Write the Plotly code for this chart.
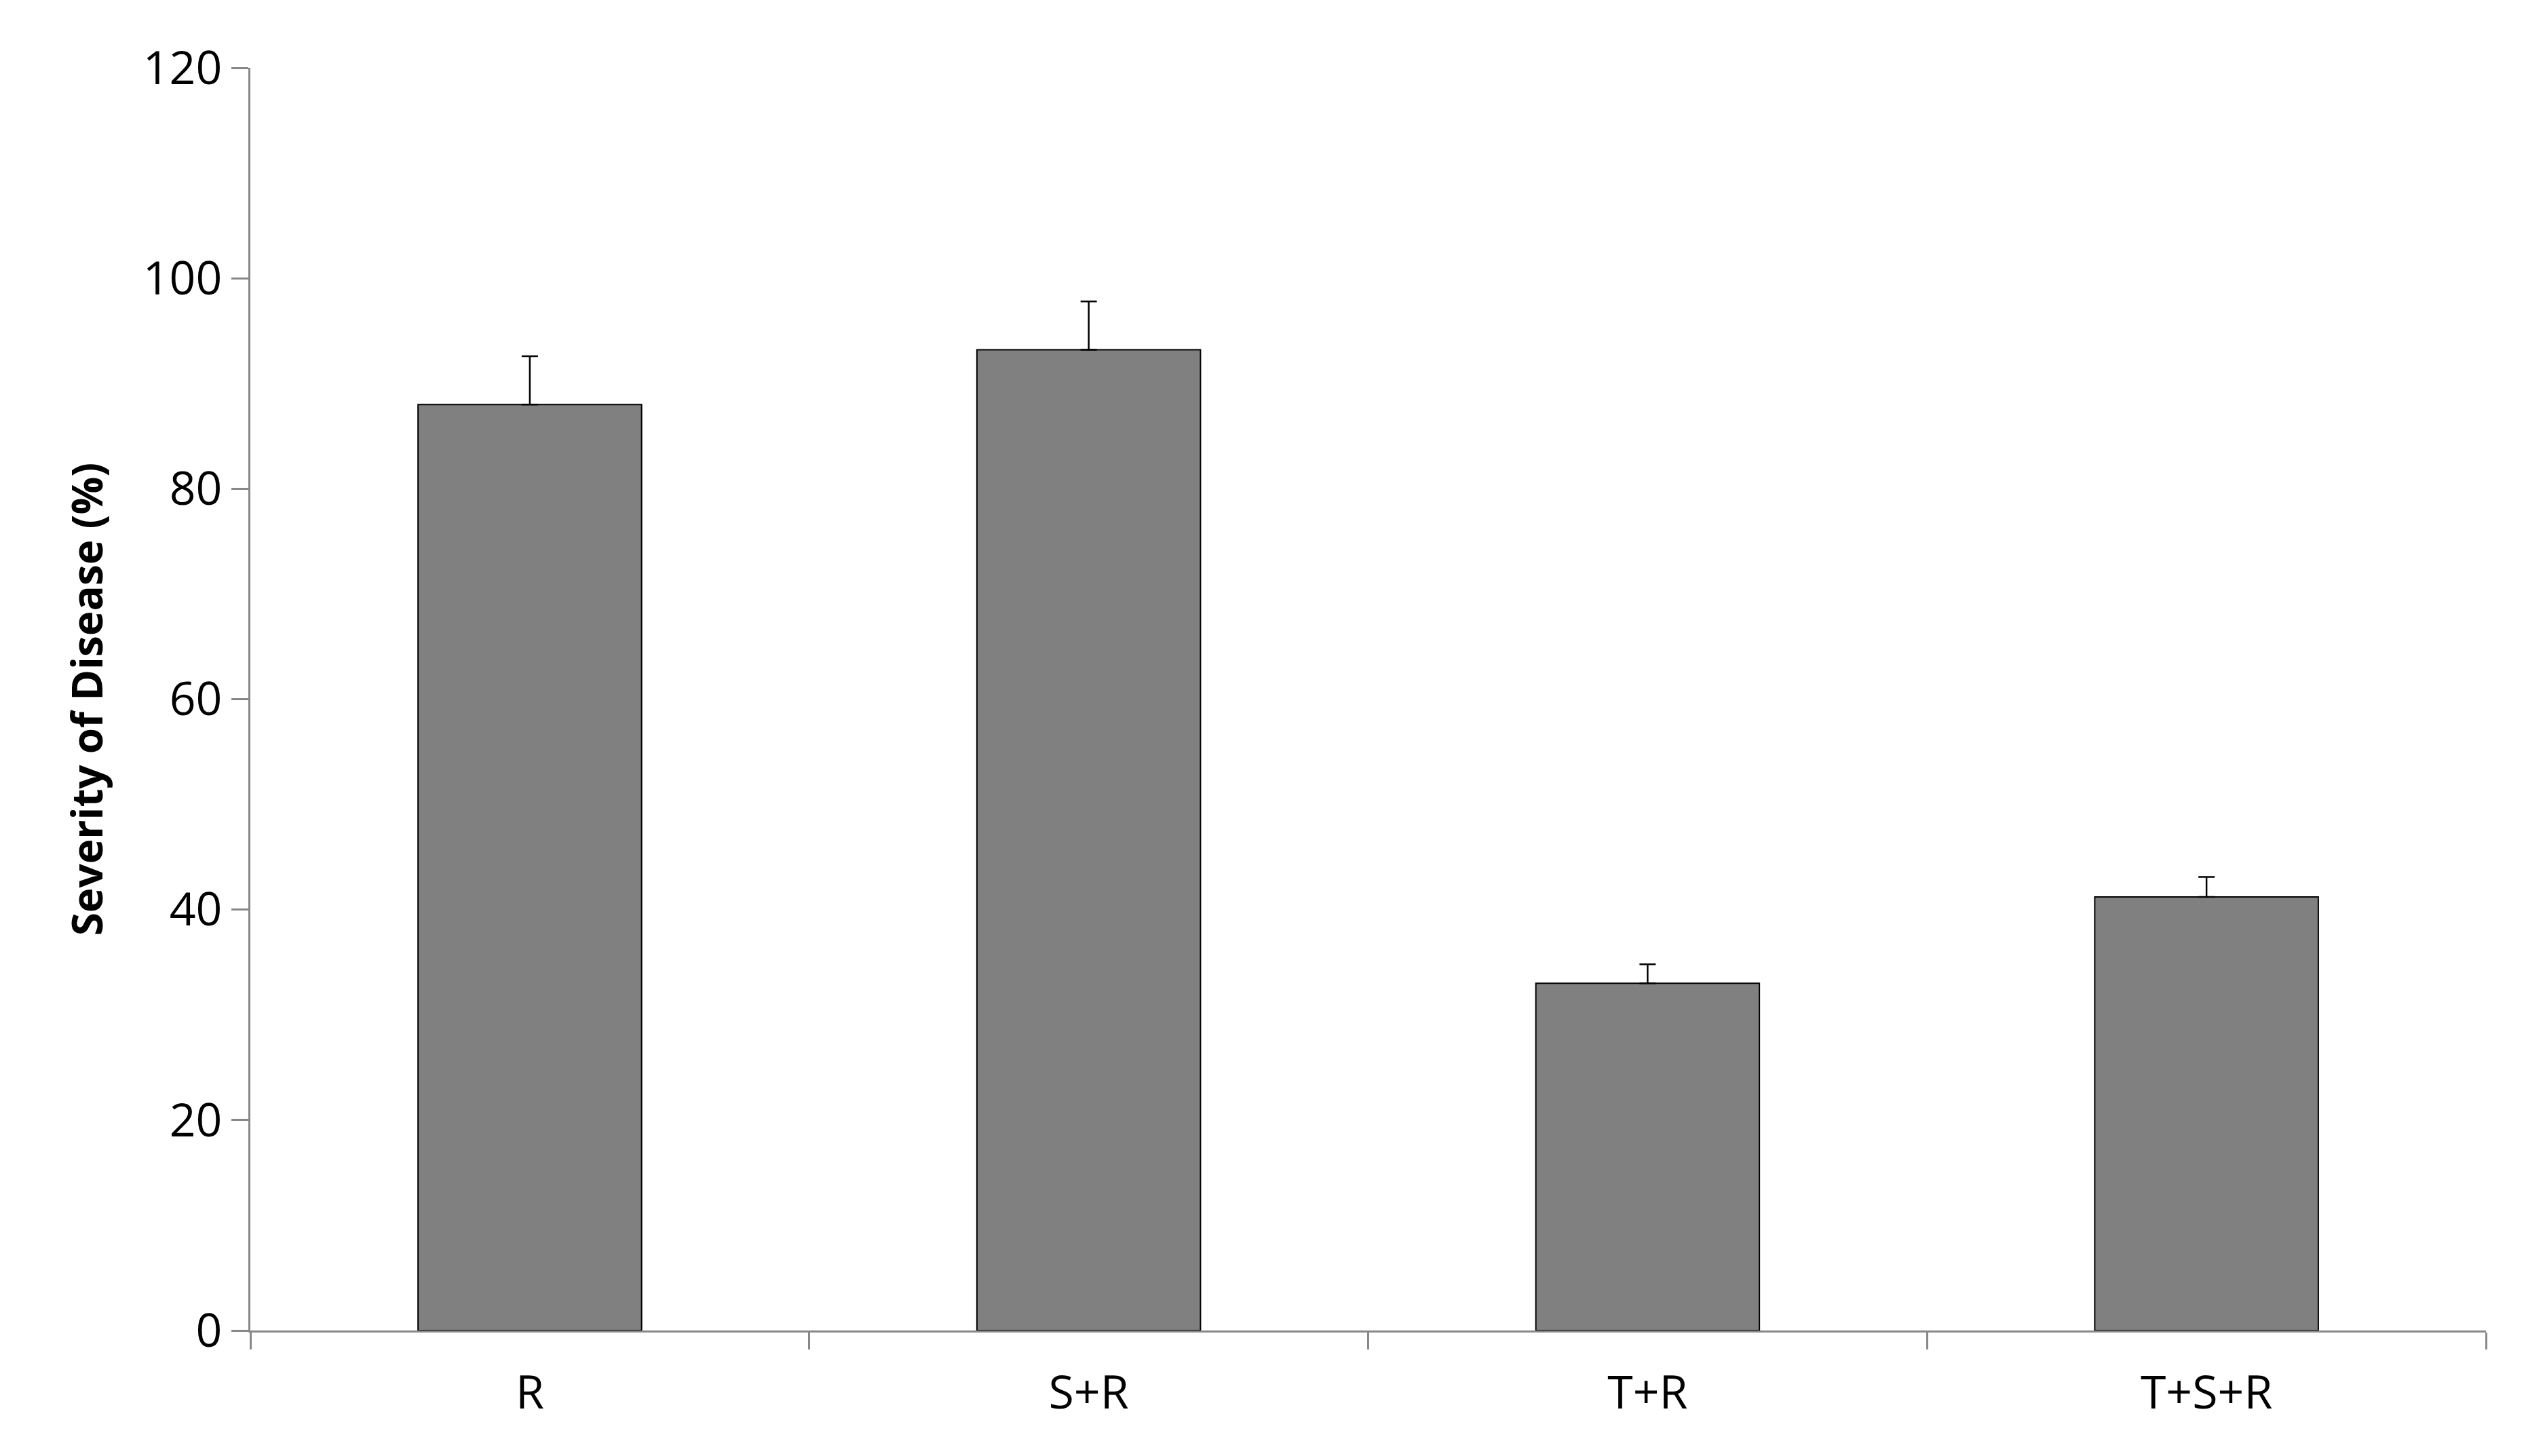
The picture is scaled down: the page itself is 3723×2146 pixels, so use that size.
import plotly.graph_objects as go

treatments = ["R", "S+R", "T+R", "T+S+R"]
severity = [88, 93.2, 33, 41.2]
err_up = [4.6, 4.6, 1.8, 1.9]

fig = go.Figure(go.Bar(
    x=treatments, y=severity,
    marker=dict(color="#808080", line=dict(color="black", width=2)),
    error_y=dict(type="data", array=err_up, arrayminus=[0]*4, symmetric=False,
                 color="black", thickness=2.5, width=12),
))

fig.update_layout(
    width=3723, height=2146,
    paper_bgcolor="white", plot_bgcolor="white",
    margin=dict(l=361, r=67, t=92, b=193),
    bargap=0.6, showlegend=False,
    font=dict(family="Open Sans", size=68, color="black"),
)
fig.update_xaxes(showline=True, linecolor="#888", linewidth=3,
                 ticks="outside", tickson="boundaries", ticklen=25, tickcolor="#888",
                 tickwidth=3, ticklabelstandoff=30)
fig.update_yaxes(range=[0, 120], dtick=20, showgrid=False, showline=True,
                 linecolor="#888", linewidth=3, ticks="outside", ticklen=25,
                 tickcolor="#888", tickwidth=3, zeroline=False,
                 title=dict(text="<b>Severity of Disease (%)</b>", font=dict(size=62), standoff=40))

fig.write_html("out.html")
